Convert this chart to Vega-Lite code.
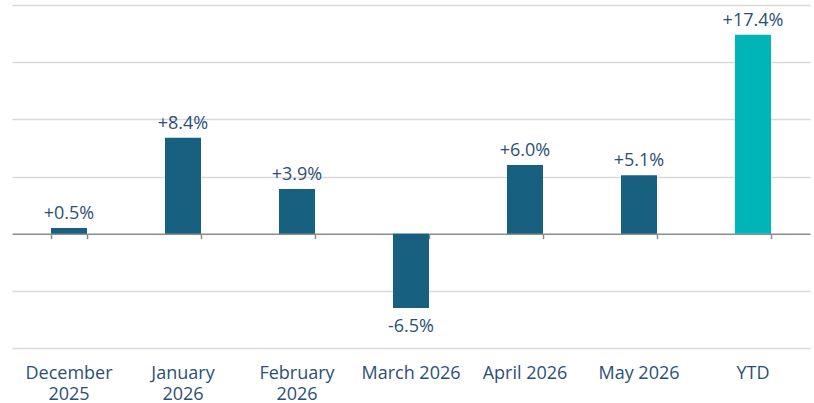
{
  "$schema": "https://vega.github.io/schema/vega-lite/v6.json",
  "width": 798,
  "height": 343,
  "autosize": {"type": "none"},
  "padding": {"left": 12, "top": 5, "right": 4, "bottom": 55},
  "background": "white",
  "config": {
    "view": {"stroke": null},
    "font": "Open Sans"
  },
  "data": {
    "values": [
      {"period": "December 2025", "value": 0.5, "label": "+0.5%", "type": "month"},
      {"period": "January 2026", "value": 8.4, "label": "+8.4%", "type": "month"},
      {"period": "February 2026", "value": 3.9, "label": "+3.9%", "type": "month"},
      {"period": "March 2026", "value": -6.5, "label": "-6.5%", "type": "month"},
      {"period": "April 2026", "value": 6.0, "label": "+6.0%", "type": "month"},
      {"period": "May 2026", "value": 5.1, "label": "+5.1%", "type": "month"},
      {"period": "YTD", "value": 17.4, "label": "+17.4%", "type": "ytd"}
    ]
  },
  "resolve": {"axis": {"x": "independent", "y": "shared"}},
  "layer": [
    {
      "mark": {"type": "bar"},
      "encoding": {
        "x": {
          "field": "period",
          "type": "nominal",
          "sort": null,
          "title": null,
          "scale": {"paddingInner": 0.684, "paddingOuter": 0.342},
          "axis": {
            "domain": false,
            "ticks": false,
            "labelAngle": 0,
            "labelPadding": 30,
            "labelFontSize": 18,
            "labelColor": "#2C4F78",
            "labelFont": "Open Sans",
            "labelLineHeight": 21,
            "labelBaseline": "alphabetic",
            "labelExpr": "datum.value == 'December 2025' ? ['December', '2025'] : datum.value == 'January 2026' ? ['January', '2026'] : datum.value == 'February 2026' ? ['February', '2026'] : datum.value"
          }
        },
        "y": {
          "field": "value",
          "type": "quantitative",
          "title": null,
          "scale": {"domain": [-10, 20], "nice": false, "zero": true},
          "axis": {
            "values": [-10, -5, 5, 10, 15, 20],
            "labels": false,
            "ticks": false,
            "domain": false,
            "grid": true,
            "gridColor": "#D9D9D9",
            "gridWidth": 1.5
          }
        },
        "color": {
          "field": "type",
          "type": "nominal",
          "legend": null,
          "scale": {"domain": ["month", "ytd"], "range": ["#17607F", "#00B5B8"]}
        }
      }
    },
    {
      "mark": {"type": "bar", "opacity": 0},
      "encoding": {
        "x": {
          "field": "period",
          "type": "nominal",
          "sort": null,
          "title": null,
          "axis": {
            "orient": "bottom",
            "offset": -114.33,
            "labels": false,
            "domain": true,
            "domainColor": "#8C8C8C",
            "domainWidth": 1.5,
            "ticks": true,
            "tickBand": "extent",
            "tickSize": 5,
            "tickColor": "#8C8C8C",
            "tickWidth": 1.5,
            "grid": false
          }
        },
        "y": {"field": "value", "type": "quantitative"}
      }
    },
    {
      "mark": {"type": "text", "baseline": "alphabetic", "dy": -9, "fontSize": 18, "color": "#2C4F78", "font": "Open Sans"},
      "transform": [{"filter": "datum.value >= 0"}],
      "encoding": {
        "x": {"field": "period", "type": "nominal", "sort": null, "axis": null},
        "y": {"field": "value", "type": "quantitative"},
        "text": {"field": "label", "type": "nominal"}
      }
    },
    {
      "mark": {"type": "text", "baseline": "alphabetic", "dy": 24, "fontSize": 18, "color": "#2C4F78", "font": "Open Sans"},
      "transform": [{"filter": "datum.value < 0"}],
      "encoding": {
        "x": {"field": "period", "type": "nominal", "sort": null, "axis": null},
        "y": {"field": "value", "type": "quantitative"},
        "text": {"field": "label", "type": "nominal"}
      }
    }
  ]
}
